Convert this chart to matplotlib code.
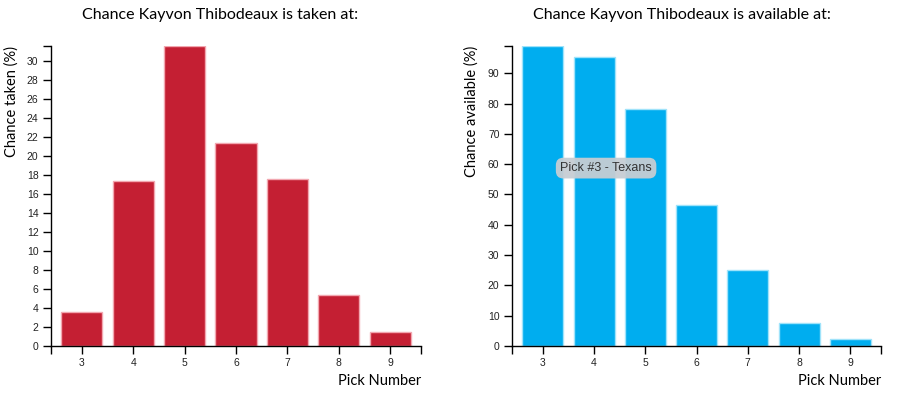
import matplotlib
matplotlib.use("Agg")
import matplotlib.pyplot as plt

picks = [3, 4, 5, 6, 7, 8, 9]
taken = [3.6, 17.35, 31.6, 21.4, 17.6, 5.34, 1.44]
available = [99.0, 95.4, 78.1, 46.5, 25.1, 7.5, 2.2]
taken_ticks = list(range(0, 31, 2))
avail_ticks = list(range(0, 91, 10))

narrow = ['Lato', 'DejaVu Sans']
plt.rcParams['font.family'] = ['Liberation Sans', 'DejaVu Sans']

fig = plt.figure(figsize=(9.08, 3.97), dpi=100)
W, H = 908, 397


def make_axes(left, right, top=46, bottom=346):
    return fig.add_axes([left / W, (H - bottom) / H, (right - left) / W, (bottom - top) / H])


def style(ax, vals, ticks, color, edge, ylabel, lab_x):
    xs = list(range(len(picks)))
    ax.bar(xs, vals, width=0.8, color=color, edgecolor=edge, linewidth=1)
    ax.set_xlim(-0.6, len(picks) - 0.4)
    ax.set_ylim(0, max(vals))
    ax.set_xticks(xs)
    ax.set_xticklabels([str(p) for p in picks])
    ax.set_yticks(ticks)
    # d3-style outer ticks at the axis ends
    ax.set_xticks([-0.6, len(picks) - 0.4], minor=True)
    ax.set_yticks([max(vals)], minor=True)
    ax.tick_params(which='both', length=6, width=1, color='black', labelsize=7.5,
                   labelcolor='#222222', pad=3)
    for s in ['top', 'right']:
        ax.spines[s].set_visible(False)
    ax.spines['left'].set_linewidth(1)
    ax.spines['bottom'].set_linewidth(1)
    ax.set_ylabel(ylabel, loc='top', fontsize=10.5, family=narrow)
    ax.yaxis.set_label_coords(lab_x, 1)
    ax.set_xlabel('Pick Number', loc='right', fontsize=10.5, family=narrow)
    ax.xaxis.set_label_coords(1, -0.093)


ax1 = make_axes(51, 421)
style(ax1, taken, taken_ticks, '#C41F33', '#F2A7B0', 'Chance taken (%)', -0.088)

ax2 = make_axes(512, 881)
style(ax2, available, avail_ticks, '#00ADEF', '#9FE3FA', 'Chance available (%)', -0.091)

fig.text(220 / W, 1 - 15 / H, 'Chance Kayvon Thibodeaux is taken at:', ha='center', va='center',
         fontsize=11.5, family=narrow)
fig.text(682 / W, 1 - 15 / H, 'Chance Kayvon Thibodeaux is available at:', ha='center', va='center',
         fontsize=11.5, family=narrow)

ax2.text(0.255, 0.593, 'Pick #3 - Texans', transform=ax2.transAxes, ha='center', va='center',
         fontsize=9, color='#333333',
         bbox=dict(boxstyle='round,pad=0.35,rounding_size=0.6', facecolor='#C6CDD3',
                   edgecolor='none', alpha=0.95))

fig.savefig('out.png', dpi=100)
